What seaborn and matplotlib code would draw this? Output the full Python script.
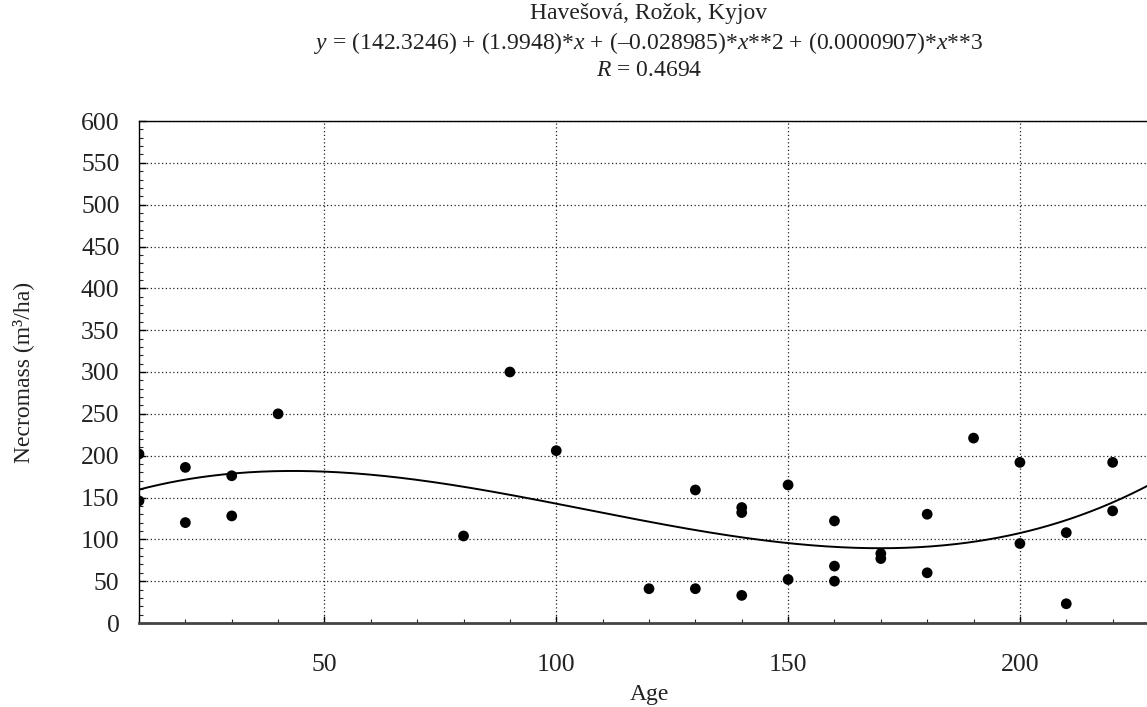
import numpy as np
import pandas as pd
import matplotlib
matplotlib.use("Agg")
import matplotlib.pyplot as plt
from matplotlib.ticker import MultipleLocator
import seaborn as sns

# ---- data ----
age = [10, 10, 20, 20, 30, 30, 40, 80, 90, 100, 120, 130, 130, 140, 140, 140,
       150, 150, 160, 160, 160, 170, 170, 180, 180, 190, 200, 200, 210, 210, 220, 220]
necromass = [202, 146, 186, 120, 176, 128, 250, 104, 300, 206, 41, 159, 41, 138, 132, 33,
             165, 52, 122, 68, 50, 83, 77, 130, 60, 221, 192, 95, 108, 23, 192, 134]
# cubic fit coefficients printed in the title (highest power first)
fit_coef = [0.0000907, -0.028985, 1.9948, 142.3246]
title_lines = ["Havešová, Rožok, Kyjov",
               "$y$ = (142.3246) + (1.9948)*$x$ + (–0.028985)*$x$**2 + (0.0000907)*$x$**3",
               "$R$ = 0.4694"]
x_ticks = [50, 100, 150, 200]
y_ticks = list(range(0, 601, 50))

sns.set_theme(style="ticks")
plt.rcParams["font.family"] = ["Liberation Serif", "DejaVu Serif"]
plt.rcParams["mathtext.fontset"] = "custom"
plt.rcParams["mathtext.rm"] = "Liberation Serif"
plt.rcParams["mathtext.it"] = "Liberation Serif:italic"

fig = plt.figure(figsize=(11.47, 7.07), dpi=100)
W, H = 1147, 707
ax = fig.add_axes([139 / W, (H - 623) / H, 1020 / W, 502 / H])

df = pd.DataFrame({"Age": age, "Necromass": necromass})
xs = np.linspace(10, 230, 400)
curve = pd.DataFrame({"Age": xs, "Fit": np.polyval(fit_coef, xs)})

sns.lineplot(data=curve, x="Age", y="Fit", ax=ax, color="black", lw=1.4, zorder=3)
sns.scatterplot(data=df, x="Age", y="Necromass", ax=ax, color="black", s=60,
                edgecolor="none", zorder=4)

ax.set_xlim(10, 230)
ax.set_ylim(0, 600)
ax.set_xticks(x_ticks)
ax.set_yticks(y_ticks)
ax.xaxis.set_minor_locator(MultipleLocator(10))
ax.yaxis.set_minor_locator(MultipleLocator(10))
ax.tick_params(which="major", direction="in", length=5, width=1, labelsize=18.5,
               colors="black", top=False, right=False)
ax.tick_params(axis="y", which="major", pad=14)
ax.tick_params(axis="x", which="major", pad=22)
ax.tick_params(which="minor", direction="in", length=3, width=0.8, top=False, right=False)
for lab in ax.get_xticklabels() + ax.get_yticklabels():
    lab.set_color("#222222")

ax.grid(True, which="major", linestyle=(0, (1, 2)), color="#222222", lw=0.9)
ax.set_axisbelow(True)
for s in ["left", "top"]:
    ax.spines[s].set_color("black")
    ax.spines[s].set_linewidth(1.0)
ax.spines["bottom"].set_color("#444444")
ax.spines["bottom"].set_linewidth(2.0)
ax.spines["right"].set_visible(False)

ax.set_xlabel("Age", fontsize=17, color="#222222", labelpad=6)
ax.set_ylabel("Necromass (m³/ha)", fontsize=17, color="#222222", labelpad=34)

ys = [14, 43, 71]
for t, y in zip(title_lines, ys):
    fig.text(649 / W, 1 - y / H, t, ha="center", va="center", fontsize=17, color="#222222")

fig.savefig("out.png", dpi=100, facecolor="white")
